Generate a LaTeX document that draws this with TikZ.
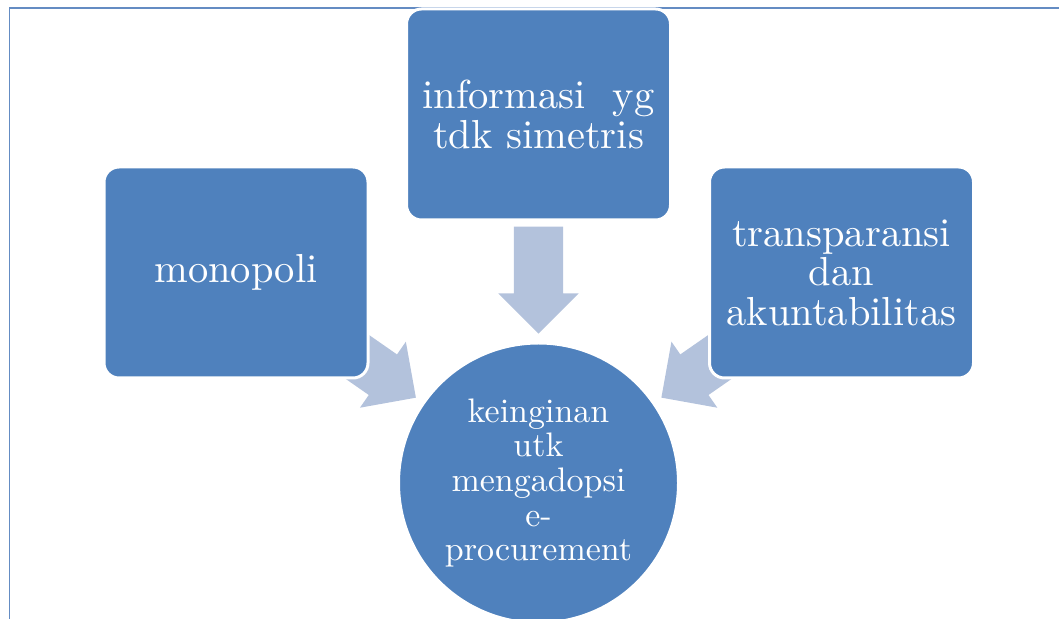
\documentclass[tikz,border=0pt]{standalone}
\usepackage{fontspec}
\setmainfont{lmroman10-regular.otf}
\usepackage{tikz}
\usepackage{xcolor}
\usetikzlibrary{positioning,shapes.arrows}
\definecolor{boxblue}{RGB}{79,129,189}
\definecolor{arrowblue}{RGB}{179,194,220}
\definecolor{frameblue}{RGB}{100,140,195}
\pgfdeclarelayer{back}
\pgfsetlayers{back,main}
\tikzstyle{topic} = [rectangle, rounded corners=15pt, draw=white, line width=3pt, fill=boxblue, text=white, align=center, minimum width=264pt, minimum height=211pt, font=\fontsize{40.5}{39.5}\selectfont]
\tikzstyle{goal} = [circle, draw=white, line width=3pt, fill=boxblue, text=white, align=center, minimum size=280pt, inner sep=0pt, font=\fontsize{34}{34.7}\selectfont]
\tikzstyle{flow} = [single arrow, draw=none, fill=arrowblue, inner sep=0pt, text height=24.5pt, text depth=24.5pt, minimum height=107pt, single arrow head extend=15.5pt, sloped, allow upside down, pos=0.416]

\begin{document}
\begin{tikzpicture}[x=1pt,y=1pt,on grid,node distance=368.5pt]
  \useasboundingbox (0,0) rectangle (1059,618);
  \draw[frameblue, line width=1.3pt] (9.5,-10) rectangle (1075,610);

  \node[topic] (I) at (538.5,503.5) {informasi~ yg\\tdk simetris};
  \node[goal] (K) [below=of I] {keinginan\\utk\\mengadopsi\\e-\\procurement};
  \node[topic] (M) [below left=158pt and 302.5pt of I] {monopoli};
  \node[topic] (T) [below right=158pt and 303pt of I] {transparansi\\dan\\akuntabilitas};

  \begin{pgfonlayer}{back}
    \path (M.center) -- node[flow] (A_M) {} (K.center);
    \path (I.center) -- node[flow] (A_I) {} (K.center);
    \path (T.center) -- node[flow] (A_T) {} (K.center);
  \end{pgfonlayer}
\end{tikzpicture}
\end{document}
